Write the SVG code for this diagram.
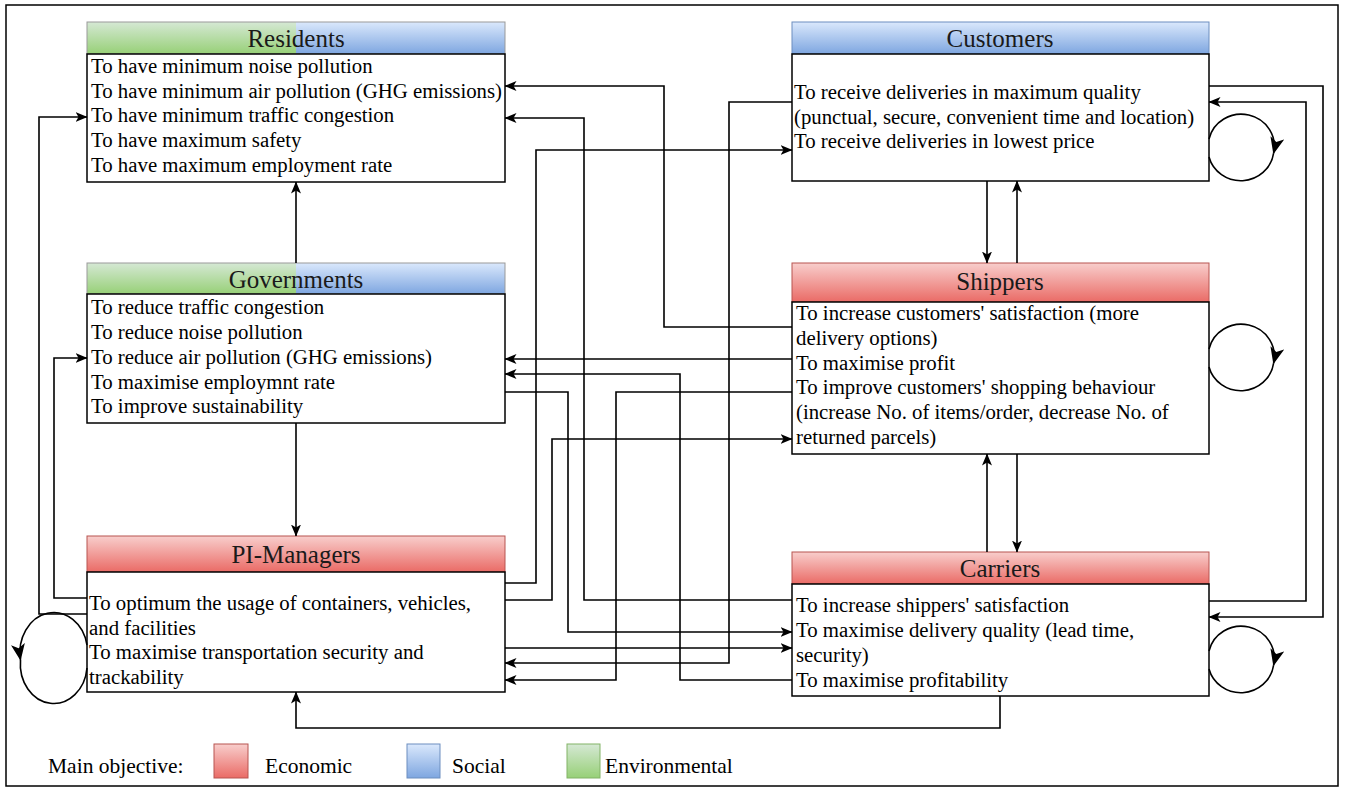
<svg xmlns="http://www.w3.org/2000/svg" width="1345" height="792" viewBox="0 0 1345 792">
<style>
.bg{fill:#fff}
.frame{fill:none;stroke:#000;stroke-width:1.5}
.body{fill:#fff;stroke:#000;stroke-width:1.5}
.t{font-family:"Liberation Serif","Times New Roman",serif;font-size:20.8px;fill:#000}
.h{font-family:"Liberation Serif","Times New Roman",serif;font-size:25px;fill:#1a1a1a;text-anchor:middle}
.lg{font-family:"Liberation Serif","Times New Roman",serif;font-size:21.5px;fill:#000}
.c{fill:none;stroke:#000;stroke-width:1.6}
.hr{fill:url(#gR);stroke:#b85450;stroke-width:1}
.hb{fill:url(#gB);stroke:#6c8ebf;stroke-width:1}
.hg{fill:url(#gG);stroke:#82b366;stroke-width:1}
</style>
<defs>
<linearGradient id="gR" x1="0" y1="0" x2="0" y2="1"><stop offset="0" stop-color="#f8cecc"/><stop offset="1" stop-color="#ea6b66"/></linearGradient>
<linearGradient id="gB" x1="0" y1="0" x2="0" y2="1"><stop offset="0" stop-color="#dae8fc"/><stop offset="1" stop-color="#7ea6e0"/></linearGradient>
<linearGradient id="gG" x1="0" y1="0" x2="0" y2="1"><stop offset="0" stop-color="#d5e8d4"/><stop offset="1" stop-color="#97d077"/></linearGradient>
<marker id="a" viewBox="0 0 12 10" refX="11.5" refY="5" markerWidth="12" markerHeight="10" markerUnits="userSpaceOnUse" orient="auto">
<path d="M0,0 L12,5 L0,10 L3,5 Z" fill="#000"/>
</marker>
<marker id="b" viewBox="0 0 12 10" refX="11.5" refY="5" markerWidth="17" markerHeight="14" markerUnits="userSpaceOnUse" orient="auto">
<path d="M0,0 L12,5 L0,10 L3,5 Z" fill="#000"/>
</marker>
</defs>
<rect class="bg" x="0" y="0" width="1345" height="792"/>
<rect class="frame" x="6" y="5" width="1332" height="781"/>

<g id="residents">
<rect x="87" y="22" width="209" height="32" fill="url(#gG)"/>
<rect x="296" y="22" width="209" height="32" fill="url(#gB)"/>
<rect x="87" y="22" width="418" height="32" fill="none" stroke="#999" stroke-width="1"/>
<text class="h" x="296" y="46.5">Residents</text>
<rect class="body" x="87" y="54" width="418" height="128"/>
<text class="t" x="91" y="72.5">To have minimum noise pollution</text>
<text class="t" x="91" y="97.5">To have minimum air pollution (GHG emissions)</text>
<text class="t" x="91" y="122">To have minimum traffic congestion</text>
<text class="t" x="91" y="147">To have maximum safety</text>
<text class="t" x="91" y="172">To have maximum employment rate</text>
</g>

<g id="governments">
<rect x="87" y="263" width="209" height="31" fill="url(#gG)"/>
<rect x="296" y="263" width="209" height="31" fill="url(#gB)"/>
<rect x="87" y="263" width="418" height="31" fill="none" stroke="#999" stroke-width="1"/>
<text class="h" x="296" y="287.5">Governments</text>
<rect class="body" x="87" y="294" width="418" height="129"/>
<text class="t" x="91" y="314">To reduce traffic congestion</text>
<text class="t" x="91" y="339">To reduce noise pollution</text>
<text class="t" x="91" y="364">To reduce air pollution (GHG emissions)</text>
<text class="t" x="91" y="388.5">To maximise employmnt rate</text>
<text class="t" x="91" y="413">To improve sustainability</text>
</g>

<g id="pi-managers">
<rect class="hr" x="87" y="536" width="418" height="36"/>
<text class="h" x="296" y="562.5">PI-Managers</text>
<rect class="body" x="87" y="572" width="418" height="120"/>
<text class="t" x="89" y="610">To optimum the usage of containers, vehicles,</text>
<text class="t" x="89" y="634.5">and facilities</text>
<text class="t" x="89" y="659">To maximise transportation security and</text>
<text class="t" x="89" y="683.5">trackability</text>
</g>

<g id="customers">
<rect class="hb" x="792" y="22" width="417" height="32"/>
<text class="h" x="1000" y="46.5">Customers</text>
<rect class="body" x="792" y="54" width="417" height="127"/>
<text class="t" x="794" y="99">To receive deliveries in maximum quality</text>
<text class="t" x="794" y="123.5">(punctual, secure, convenient time and location)</text>
<text class="t" x="794" y="148">To receive deliveries in lowest price</text>
</g>

<g id="shippers">
<rect class="hr" x="792" y="263" width="417" height="39"/>
<text class="h" x="1000" y="290">Shippers</text>
<rect class="body" x="792" y="302" width="417" height="152"/>
<text class="t" x="796" y="320">To increase customers' satisfaction (more</text>
<text class="t" x="796" y="344.8">delivery options)</text>
<text class="t" x="796" y="369.6">To maximise profit</text>
<text class="t" x="796" y="394.4">To improve customers' shopping behaviour</text>
<text class="t" x="796" y="419.2">(increase No. of items/order, decrease No. of</text>
<text class="t" x="796" y="444">returned parcels)</text>
</g>

<g id="carriers">
<rect class="hr" x="792" y="552" width="417" height="32"/>
<text class="h" x="1000" y="576.5">Carriers</text>
<rect class="body" x="792" y="584" width="417" height="112"/>
<text class="t" x="796" y="612">To increase shippers' satisfaction</text>
<text class="t" x="796" y="637">To maximise delivery quality (lead time,</text>
<text class="t" x="796" y="662">security)</text>
<text class="t" x="796" y="687">To maximise profitability</text>
</g>

<g id="connectors">
<path class="c" d="M792,327 H664 V86 H505" marker-end="url(#a)"/>
<path class="c" d="M792,600 H584 V118 H505" marker-end="url(#a)"/>
<path class="c" d="M505,583 H536 V150 H792" marker-end="url(#a)"/>
<path class="c" d="M792,102 H729 V663 H505" marker-end="url(#a)"/>
<path class="c" d="M792,359 H505" marker-end="url(#a)"/>
<path class="c" d="M792,680 H680 V374 H505" marker-end="url(#a)"/>
<path class="c" d="M505,392 H568 V632 H792" marker-end="url(#a)"/>
<path class="c" d="M792,392 H616 V680 H505" marker-end="url(#a)"/>
<path class="c" d="M505,600 H552 V439 H792" marker-end="url(#a)"/>
<path class="c" d="M505,648 H792" marker-end="url(#a)"/>
<path class="c" d="M296,263 V182" marker-end="url(#a)"/>
<path class="c" d="M296,423 V536" marker-end="url(#a)"/>
<path class="c" d="M987,181 V263" marker-end="url(#a)"/>
<path class="c" d="M1017,263 V181" marker-end="url(#a)"/>
<path class="c" d="M1017,454 V552" marker-end="url(#a)"/>
<path class="c" d="M987,552 V454" marker-end="url(#a)"/>
<path class="c" d="M1000,696 V728 H296 V692" marker-end="url(#a)"/>
<path class="c" d="M1209,86 H1323 V617 H1209" marker-end="url(#a)"/>
<path class="c" d="M1209,601 H1306 V102 H1209" marker-end="url(#a)"/>
<path class="c" d="M87,614 H39 V117 H87" marker-end="url(#a)"/>
<path class="c" d="M87,598 H54 V358 H87" marker-end="url(#a)"/>
<path class="c" d="M1209,139 A33,32 0 0 1 1273.5,153.6" marker-end="url(#b)"/>
<path class="c" d="M1273.5,153.6 A33,32 0 0 1 1209,157"/>
<path class="c" d="M1209,349 A33,32 0 0 1 1273.5,363.6" marker-end="url(#b)"/>
<path class="c" d="M1273.5,363.6 A33,32 0 0 1 1209,367"/>
<path class="c" d="M1209,651 A33,32 0 0 1 1273.5,665.6" marker-end="url(#b)"/>
<path class="c" d="M1273.5,665.6 A33,32 0 0 1 1209,669"/>
<path class="c" d="M87,645 A33,39 0 0 0 20.5,660" marker-end="url(#b)"/>
<path class="c" d="M20.5,660 A33,39 0 0 0 87,668"/>
</g>

<g id="legend">
<text class="lg" x="48" y="773">Main objective:</text>
<rect class="hr" x="214" y="744" width="34" height="34"/>
<text class="lg" x="265" y="773">Economic</text>
<rect class="hb" x="407" y="744" width="33" height="34"/>
<text class="lg" x="452" y="773">Social</text>
<rect class="hg" x="567" y="744" width="33" height="34"/>
<text class="lg" x="605" y="773">Environmental</text>
</g>
</svg>
